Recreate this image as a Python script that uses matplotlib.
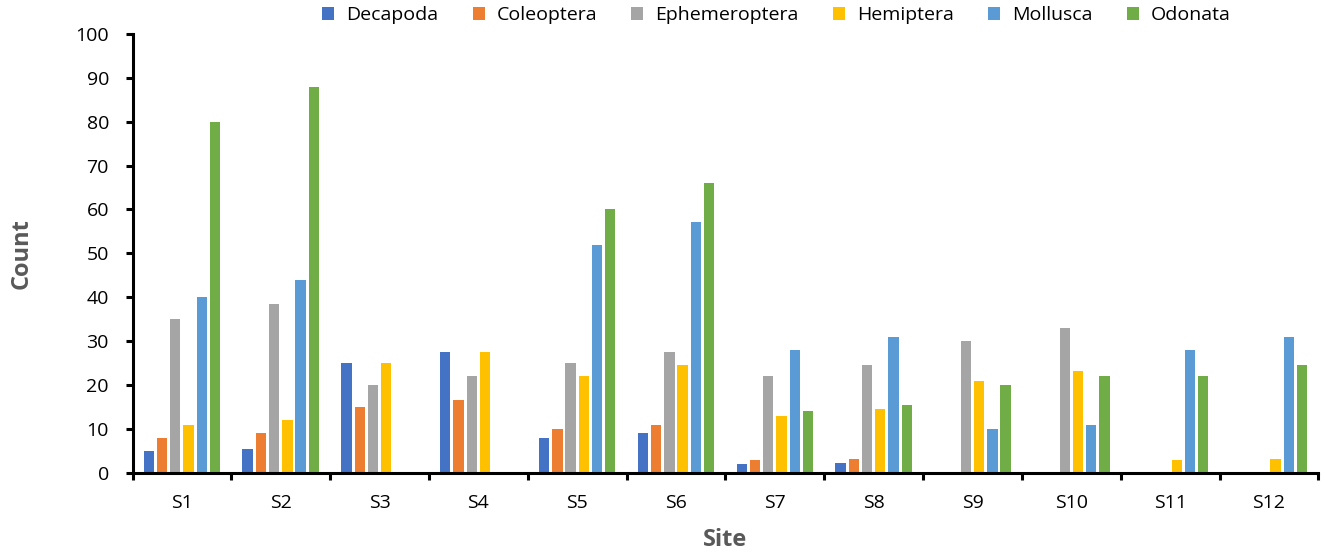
import numpy as np
import matplotlib
matplotlib.use("Agg")
from matplotlib import pyplot as plt

sites = ['S1', 'S2', 'S3', 'S4', 'S5', 'S6', 'S7', 'S8', 'S9', 'S10', 'S11', 'S12']
taxa = ['Decapoda', 'Coleoptera', 'Ephemeroptera', 'Hemiptera', 'Mollusca', 'Odonata']

decapoda      = [5, 5.5, 25, 27.5, 8, 9, 2, 2.2, 0, 0, 0, 0]
coleoptera    = [8, 9, 15, 16.5, 10, 11, 3, 3.2, 0, 0, 0, 0]
ephemeroptera = [35, 38.5, 20, 22, 25, 27.5, 22, 24.5, 30, 33, 0, 0]
hemiptera     = [11, 12, 25, 27.5, 22, 24.5, 13, 14.5, 21, 23.2, 3, 3.2]
mollusca      = [40, 44, 0, 0, 52, 57.2, 28, 31, 10, 11, 28, 31]
odonata       = [80, 88, 0, 0, 60, 66, 14, 15.5, 20, 22, 22, 24.5]

colors = ['#4472C4', '#ED7D31', '#A5A5A5', '#FFC000', '#5B9BD5', '#70AD47']
series = [decapoda, coleoptera, ephemeroptera, hemiptera, mollusca, odonata]

plt.rcParams['font.family'] = ['Open Sans', 'Noto Sans', 'DejaVu Sans']

fig = plt.figure(figsize=(13.25, 5.55), dpi=100)
ax = fig.add_axes([0.1, 0.148, 0.895, 0.791])

x = np.arange(len(sites))
slot = 0.134
for i, (vals, name, c) in enumerate(zip(series, taxa, colors)):
    ax.bar(x + (i - 2.5) * slot, vals, width=0.105, color=c, label=name, zorder=2)

ax.set_xlim(-0.5, len(sites) - 0.5)
ax.set_ylim(0, 100)
ax.set_yticks(np.arange(0, 101, 10))

# category boundaries as ticks, labels in the middle
ax.set_xticks(np.arange(-0.5, len(sites), 1.0))
ax.set_xticklabels([])
ax.set_xticks(x, minor=True)
ax.set_xticklabels(sites, minor=True)
ax.tick_params(axis='x', which='major', direction='out', length=5, width=2.2)
ax.tick_params(axis='x', which='minor', length=0, pad=15, labelsize=14)
ax.tick_params(axis='y', direction='out', length=5, width=2.2, pad=12, labelsize=14)

for s in ['top', 'right']:
    ax.spines[s].set_visible(False)
for s in ['left', 'bottom']:
    ax.spines[s].set_linewidth(2.2)
    ax.spines[s].set_zorder(3)

ax.set_ylabel('Count', fontsize=17, fontweight='bold', color='#595959', labelpad=30)
ax.set_xlabel('Site', fontsize=17, fontweight='bold', color='#595959', labelpad=12)

ax.legend(loc='lower center', bbox_to_anchor=(0.543, 1.0), ncol=6, frameon=False,
          fontsize=14, handlelength=0.62, handleheight=0.62, handletextpad=0.62,
          columnspacing=1.75, borderaxespad=0.1)

fig.savefig('out.png', dpi=100)
